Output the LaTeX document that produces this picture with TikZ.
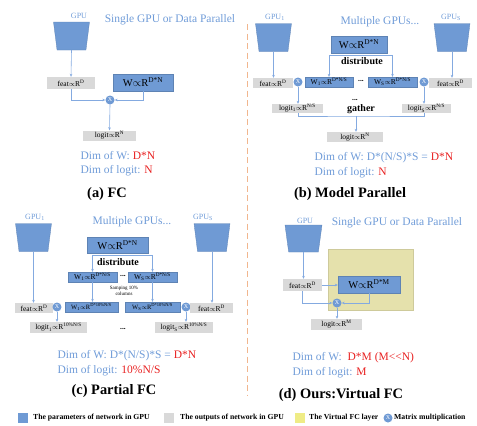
\documentclass[tikz,border=0pt]{standalone}
\usepackage{fontspec}
\setmainfont{Liberation Serif}
\usetikzlibrary{shapes.geometric,arrows.meta}

\definecolor{paramblue}{RGB}{111,154,212}
\definecolor{outgray}{RGB}{217,217,217}
\definecolor{vfcyellow}{RGB}{229,225,172}
\definecolor{textblue}{RGB}{112,156,216}
\definecolor{linkblue}{RGB}{132,170,224}
\definecolor{sepline}{RGB}{241,182,142}
\definecolor{dimred}{RGB}{232,32,32}

% "proportional to R^x" as written in the boxes
\newcommand{\inR}[1]{$\propto$R\textsuperscript{#1}}

\begin{document}
\begin{tikzpicture}[x=1pt, y=-1pt,
    box/.style={inner sep=0pt, font=\fontsize{7.5}{8}\selectfont},
    param/.style={box, fill=paramblue, draw=paramblue!85!black, line width=0.3pt},
    bigparam/.style={param, font=\fontsize{10.5}{11}\selectfont},
    output/.style={box, fill=outgray},
    mult/.style={circle, fill=paramblue, text=white, inner sep=0pt, minimum size=9pt, font=\fontsize{6}{6}\selectfont},
    gpu/.style={trapezium, trapezium stretches=true, shape border rotate=180, trapezium angle=83,
        fill=paramblue, draw=paramblue!85!black, line width=0.3pt, minimum width=36pt, minimum height=28pt},
    gpulabel/.style={text=textblue, font=\fontsize{8}{9}\selectfont},
    title/.style={text=textblue, font=\fontsize{11.5}{13}\selectfont},
    dim/.style={title, anchor=west},
    caption/.style={font=\fontsize{14.4}{16}\selectfont\bfseries},
    step label/.style={font=\fontsize{10}{11}\selectfont\bfseries},
    link/.style={draw=linkblue, line width=0.6pt},
    arr/.style={link, -{Stealth[length=3pt, width=2.6pt]}},
    legendbox/.style={minimum size=10pt, inner sep=0pt},
    legendtext/.style={anchor=west, inner sep=0pt, font=\fontsize{7.7}{8}\selectfont\bfseries}]
\useasboundingbox (0,0) rectangle (477,426);

% ---------------- (a) FC ----------------
\node [gpu] (gpuA) at (71.5,36) {};
\node [gpulabel] (gpuAlab) at (79,16) {GPU};
\node [title] (titleA) at (170,20) {Single GPU or Data Parallel};
\node [output, minimum width=48pt, minimum height=12pt] (featA) at (71,83) {feat\inR{D}};
\node [bigparam, minimum width=60pt, minimum height=17pt] (WA) at (143,82.5) {W\inR{D*N}};
\node [mult] (multA) at (110,100) {X};
\node [output, minimum width=53pt, minimum height=10pt] (logitA) at (109.5,135.5) {logit\inR{N}};

\draw [arr] (gpuA.south) -- (featA.north);
\draw [arr] (featA.south) |- (multA.west);
\draw [arr] (WA.south) |- (multA.east);
\draw [arr] (multA.south) -- (logitA.north);

\node [dim] (dimWA) at (77,156) {Dim of W: \textcolor{dimred}{D*N}};
\node [dim] (dimLA) at (77,171) {Dim of logit: \textcolor{dimred}{N}};
\node [caption] (capA) at (107,194) {(a) FC};

% ---------------- (b) Model Parallel ----------------
\node [gpu] (gpuB1) at (273.5,37.5) {};
\node [gpulabel] (gpuB1lab) at (275,17) {GPU\textsubscript{1}};
\node [gpu] (gpuBS) at (452,37.5) {};
\node [gpulabel] (gpuBSlab) at (451,17) {GPU\textsubscript{S}};
\node [title] (titleB) at (380,22) {Multiple GPUs...};
\node [bigparam, minimum width=56pt, minimum height=17pt] (WB) at (359,44.5) {W\inR{D*N}};
\node [step label] (distB) at (362,61) {distribute};

\node [output, minimum width=40pt, minimum height=10pt] (featB1) at (273,83) {feat\inR{D}};
\node [mult] (multB1) at (298,82) {X};
\node [param, minimum width=48pt, minimum height=10pt] (W1B) at (329,82) {W\textsubscript{1}\inR{D*N/S}};
\node [box] (dotsB) at (361,81) {\textbf{...}};
\node [param, minimum width=49pt, minimum height=10pt] (WSB) at (392.5,82) {W\textsubscript{S}\inR{D*N/S}};
\node [mult] (multBS) at (424,82) {X};
\node [output, minimum width=43pt, minimum height=10pt] (featBS) at (450.5,83) {feat\inR{D}};

\node [output, minimum width=51pt, minimum height=9pt] (logitB1) at (297.5,108.5) {logit\textsubscript{1}\inR{N/S}};
\node [output, minimum width=49pt, minimum height=9pt] (logitBS) at (426.5,108.5) {logit\textsubscript{S}\inR{N/S}};
\node [box] (dotsB2) at (355,100) {\textbf{...}};
\node [step label] (gathB) at (361,109) {gather};
\coordinate (gthB) at (356,116);
\node [output, minimum width=56pt, minimum height=10pt] (logitB) at (355,137) {logit\inR{N}};

\draw [arr] (gpuB1.south) -- (gpuB1.south |- featB1.north);
\draw [arr] (gpuBS.south) -- (gpuBS.south |- featBS.north);
\draw [arr] ([yshift=-2pt]WB.south) -| (W1B.north);
\draw [arr] ([yshift=-2pt]WB.south) -| (WSB.north);
\draw [arr] (multB1.south) -- (multB1.south |- logitB1.north);
\draw [arr] (multBS.south) -- (multBS.south |- logitBS.north);
\draw [link] (multB1 |- logitB1.south) |- (gthB) -| (multBS |- logitBS.south);
\draw [arr] (gthB) -- (gthB |- logitB.north);

\node [dim] (dimWB) at (311,158) {Dim of W: D*(N/S)*S = \textcolor{dimred}{D*N}};
\node [dim] (dimLB) at (311,173) {Dim of logit: \textcolor{dimred}{N}};
\node [caption] (capB) at (350,194) {(b) Model Parallel};

% ---------------- (c) Partial FC ----------------
\node [gpu] (gpuC1) at (33.5,237.5) {};
\node [gpulabel] (gpuC1lab) at (35,217) {GPU\textsubscript{1}};
\node [gpu] (gpuCS) at (212,237.5) {};
\node [gpulabel] (gpuCSlab) at (203,217) {GPU\textsubscript{S}};
\node [title] (titleC) at (132,222) {Multiple GPUs...};
\node [bigparam, minimum width=61pt, minimum height=16pt] (WC) at (117.5,245) {W\inR{D*N}};
\node [step label] (distC) at (118,262) {distribute};

\node [param, minimum width=49pt, minimum height=10pt] (W1C) at (92.5,277) {W\textsubscript{1}\inR{D*N/S}};
\node [box] (dotsC) at (123,276) {\textbf{...}};
\node [param, minimum width=49pt, minimum height=10pt] (WSC) at (152.5,277) {W\textsubscript{S}\inR{D*N/S}};
\node [align=center, inner sep=0pt, font=\fontsize{5}{6}\selectfont] (sampC) at (124,291) {Samping 10\%\\columns};

\node [output, minimum width=38pt, minimum height=10pt] (featC1) at (34,308) {feat\inR{D}};
\node [mult] (multC1) at (57,307) {X};
\node [param, minimum width=53pt, minimum height=10pt, font=\fontsize{6.5}{7}\selectfont] (W1Cs) at (91.5,307) {W\textsubscript{1}\inR{D*10\%N/S}};
\node [param, minimum width=55pt, minimum height=10pt, font=\fontsize{6.5}{7}\selectfont] (WSCs) at (152.5,307) {W\textsubscript{S}\inR{D*10\%N/S}};
\node [mult] (multCS) at (186,307) {X};
\node [output, minimum width=43pt, minimum height=10pt] (featCS) at (211.5,308) {feat\inR{D}};

\node [output, minimum width=57pt, minimum height=11pt] (logitC1) at (58.5,327.5) {logit\textsubscript{1}\inR{10\%N/S}};
\node [box] (dotsC2) at (123,329) {\textbf{...}};
\node [output, minimum width=58pt, minimum height=11pt] (logitCS) at (184,327.5) {logit\textsubscript{S}\inR{10\%N/S}};

\draw [arr] (gpuC1.south) -- (gpuC1.south |- featC1.north);
\draw [arr] (gpuCS.south) -- (gpuCS.south |- featCS.north);
\draw [arr] ([yshift=-2pt]WC.south) -| (W1C.north);
\draw [arr] ([yshift=-2pt]WC.south) -| (WSC.north);
\draw [arr] (W1C.south) -- (W1C.south |- W1Cs.north);
\draw [arr] (WSC.south) -- (WSC.south |- WSCs.north);
\draw [arr] (multC1.south) -- (multC1.south |- logitC1.north);
\draw [arr] (multCS.south) -- (multCS.south |- logitCS.north);

\node [dim] (dimWC) at (54,356) {Dim of W: D*(N/S)*S = \textcolor{dimred}{D*N}};
\node [dim] (dimLC) at (54,371) {Dim of logit: \textcolor{dimred}{10\%N/S}};
\node [caption] (capC) at (114,391) {(c) Partial FC};

% ---------------- (d) Ours: Virtual FC ----------------
\node [fill=vfcyellow, draw=vfcyellow!90!black, line width=0.2pt, minimum width=85pt, minimum height=61pt] (vfcD) at (370.5,279.5) {};
\node [gpu, minimum width=37pt, minimum height=27pt] (gpuD) at (303.5,238.5) {};
\node [gpulabel] (gpuDlab) at (305,221) {GPU};
\node [title] (titleD) at (397,223) {Single GPU or Data Parallel};
\node [output, minimum width=39pt, minimum height=12pt] (featD) at (302.5,285) {feat\inR{D}};
\node [bigparam, minimum width=62pt, minimum height=17pt] (WD) at (369,284.5) {W\inR{D*M}};
\node [mult] (multD) at (337,303) {X};
\node [output, minimum width=51pt, minimum height=11pt] (logitD) at (336.5,324.5) {logit\inR{M}};

\draw [arr] (gpuD.south) -- (gpuD.south |- featD.north);
\draw [arr] (featD.east) -- (featD.east -| WD.west);
\draw [arr] (featD.south) |- (multD.west);
\draw [arr] (WD.south) |- (multD.east);
\draw [arr] (multD.south) -- (multD.south |- logitD.north);

\node [dim] (dimWD) at (289,358) {Dim of W:\ \ \textcolor{dimred}{D*M (M<{}<N)}};
\node [dim] (dimLD) at (289,373) {Dim of logit: \textcolor{dimred}{M}};
\node [caption] (capD) at (341,395) {(d) Ours:Virtual FC};

% separator between the two columns
\draw [sepline, line width=1pt, dash pattern=on 6pt off 3.5pt] (247.5,24) -- (247.5,395);

% ---------------- legend ----------------
\node [legendbox, fill=paramblue] (keyParam) at (23,418) {};
\node [legendtext] (keyParamTxt) at (33,418) {The parameters of network in GPU};
\node [legendbox, fill=outgray] (keyOut) at (169,418) {};
\node [legendtext] (keyOutTxt) at (180,418) {The outputs of network in GPU};
\node [legendbox, fill=vfcyellow!70!yellow!90!white] (keyVfc) at (300,418) {};
\node [legendtext] (keyVfcTxt) at (309,418) {The Virtual FC layer};
\node [mult] (keyMult) at (388,418) {X};
\node [legendtext] (keyMultTxt) at (394,418) {Matrix multiplication};
\end{tikzpicture}
\end{document}
